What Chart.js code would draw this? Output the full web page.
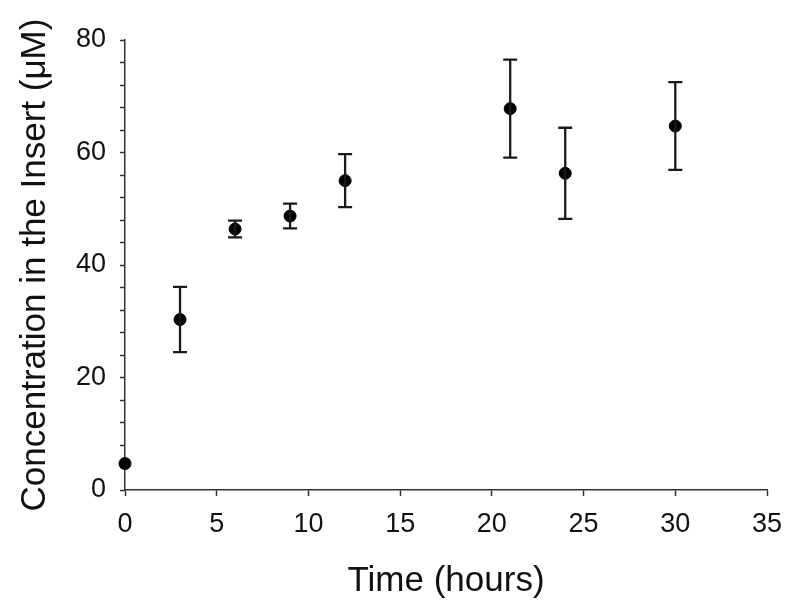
<!DOCTYPE html>
<html lang="en">
<head>
    <meta charset="UTF-8">
    <title>Concentration in the Insert</title>
    <script src="https://cdn.jsdelivr.net/npm/chart.js"></script>
    <style>
        body { margin: 0; background: #fff; }
        #wrap { width: 800px; height: 613px; }
    </style>
</head>
<body>
    <div id="wrap">
        <canvas id="concChart" width="800" height="613"></canvas>
    </div>
    <script>
        // data
        const timeHours = [0, 3, 6, 9, 12, 21, 24, 30];
        const concentration = [4.7, 30.3, 46.4, 48.7, 55.0, 67.8, 56.3, 64.7];
        const errorSD = [0, 5.8, 1.5, 2.2, 4.7, 8.7, 8.1, 7.8];
        const xTicks = [0, 5, 10, 15, 20, 25, 30, 35];
        const yTicks = [0, 20, 40, 60, 80];

        const points = timeHours.map((t, i) => ({ x: t, y: concentration[i] }));

        // draws the vertical error bars with caps
        const errorBars = {
            id: 'errorBars',
            afterDatasetsDraw(chart) {
                const ctx = chart.ctx;
                const xs = chart.scales.x, ys = chart.scales.y;
                ctx.save();
                ctx.strokeStyle = '#1a1a1a';
                ctx.lineWidth = 2.3;
                timeHours.forEach((t, i) => {
                    if (!errorSD[i]) return;
                    const px = xs.getPixelForValue(t);
                    const top = ys.getPixelForValue(concentration[i] + errorSD[i]);
                    const bot = ys.getPixelForValue(concentration[i] - errorSD[i]);
                    ctx.beginPath();
                    ctx.moveTo(px, top); ctx.lineTo(px, bot);
                    ctx.moveTo(px - 7, top); ctx.lineTo(px + 7, top);
                    ctx.moveTo(px - 7, bot); ctx.lineTo(px + 7, bot);
                    ctx.stroke();
                });
                ctx.restore();
            }
        };

        Chart.defaults.font.family = '"Liberation Sans", Arial, sans-serif';
        Chart.defaults.color = '#111';

        new Chart(document.getElementById('concChart'), {
            type: 'scatter',
            data: {
                datasets: [{
                    data: points,
                    backgroundColor: '#000',
                    borderColor: '#000',
                    pointRadius: 6,
                    pointHoverRadius: 6,
                    clip: false
                }]
            },
            options: {
                responsive: false,
                animation: false,
                devicePixelRatio: 1,
                layout: { padding: { top: 40, right: 33, left: 0, bottom: 0 } },
                plugins: {
                    legend: { display: false },
                    tooltip: { enabled: false }
                },
                scales: {
                    x: {
                        type: 'linear',
                        min: 0,
                        max: 35,
                        afterBuildTicks: scale => {
                            scale.ticks = xTicks.map(v => ({ value: v }));
                        },
                        afterFit: scale => { scale.height = 123; },
                        ticks: { font: { size: 27 }, padding: 12, color: '#111' },
                        grid: {
                            drawOnChartArea: false,
                            drawTicks: true,
                            tickLength: 6,
                            tickColor: '#333',
                            tickWidth: 1.5
                        },
                        border: { display: true, color: '#333', width: 1.5 },
                        title: {
                            display: true,
                            text: 'Time (hours)',
                            font: { size: 35 },
                            color: '#111',
                            padding: { top: 0, bottom: 11 }
                        }
                    },
                    y: {
                        type: 'linear',
                        min: 0,
                        max: 80,
                        ticks: {
                            stepSize: 4,
                            autoSkip: false,
                            font: { size: 27 },
                            padding: 14,
                            color: '#111',
                            callback: v => yTicks.includes(v) ? String(v) : ''
                        },
                        afterFit: scale => { scale.width = 125; },
                        grid: {
                            drawOnChartArea: false,
                            drawTicks: true,
                            tickLength: 5,
                            tickColor: '#333',
                            tickWidth: 1.5
                        },
                        border: { display: true, color: '#333', width: 1.5 },
                        title: {
                            display: true,
                            text: 'Concentration in the Insert (\u03bcM)',
                            font: { size: 35 },
                            color: '#111',
                            padding: { top: 14, bottom: 0 }
                        }
                    }
                }
            },
            plugins: [errorBars]
        });
    </script>
</body>
</html>
